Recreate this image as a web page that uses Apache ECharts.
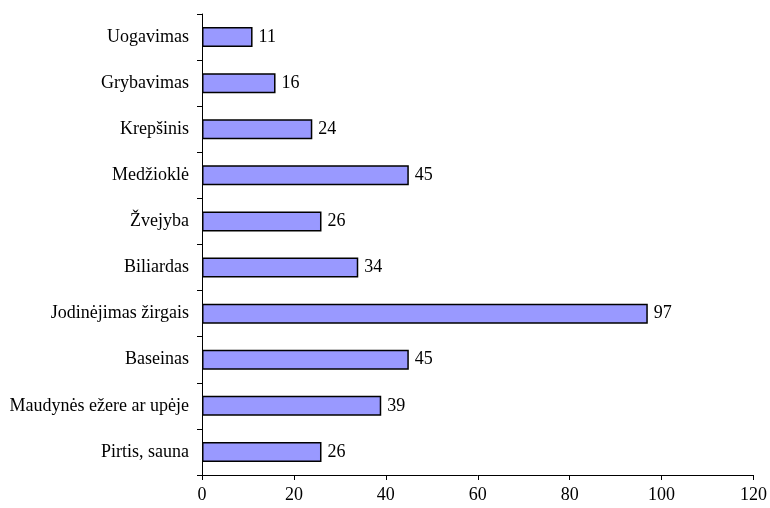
<!DOCTYPE html>
<html><head><meta charset="utf-8">
<script src="https://cdn.jsdelivr.net/npm/echarts@6/dist/echarts.min.js"></script>
<style>html,body{margin:0;padding:0;background:#fff}#c{width:770px;height:508px}</style>
</head><body><div id="c"></div>
<script>
const categories = ["Pirtis, sauna","Maudynės ežere ar upėje","Baseinas","Jodinėjimas žirgais","Biliardas","Žvejyba","Medžioklė","Krepšinis","Grybavimas","Uogavimas"];
const values = [26,39,45,97,34,26,45,24,16,11];
const xTicks = [0,20,40,60,80,100,120];
const font = "'Liberation Serif','Times New Roman',serif";
const fs = 18;
const chart = echarts.init(document.getElementById('c'));
chart.setOption({
  animation:false,
  backgroundColor:'#fff',
  grid:{left:202,right:16,top:14,bottom:33,containLabel:false},
  xAxis:{type:'value',min:xTicks[0],max:xTicks[xTicks.length-1],interval:20,
    axisLine:{show:true,lineStyle:{color:'#000',width:1}},
    axisTick:{show:true,length:5,lineStyle:{color:'#000'}},
    splitLine:{show:false},
    axisLabel:{color:'#000',fontFamily:font,fontSize:fs,margin:11}},
  yAxis:{type:'category',data:categories,
    axisLine:{show:true,lineStyle:{color:'#000',width:1}},
    axisTick:{show:true,length:5,lineStyle:{color:'#000'}},
    axisLabel:{color:'#000',fontFamily:font,fontSize:fs,margin:13}},
  series:[{type:'bar',data:values,barWidth:20,
    itemStyle:{color:'#9999FF',borderColor:'#000',borderWidth:1.5},
    label:{show:true,position:'right',distance:6,color:'#000',fontFamily:font,fontSize:fs}}]
});
</script></body></html>
